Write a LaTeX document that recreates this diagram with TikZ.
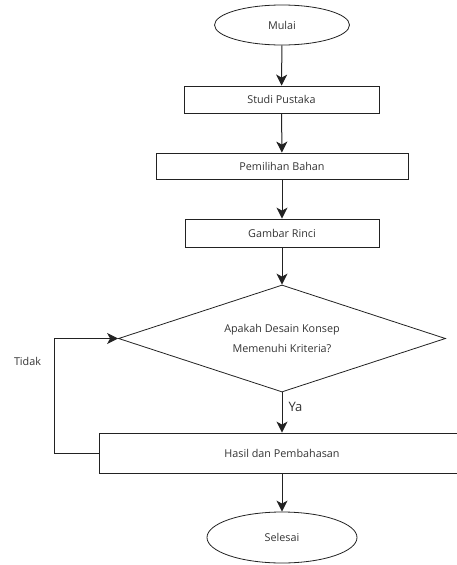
\documentclass[tikz,border=0pt]{standalone}
\usepackage{fontspec}
\setmainfont{Open Sans}
\usetikzlibrary{shapes.geometric,arrows.meta}
\definecolor{txt}{HTML}{333333}
\definecolor{ln}{HTML}{222222}
\begin{document}
\begin{tikzpicture}[x=1pt,y=-1pt,
  every node/.style={font=\fontsize{10.8}{20}\selectfont, text=txt},
  term/.style={draw=ln, line width=0.8pt, ellipse, inner sep=0pt},
  proc/.style={draw=ln, line width=0.8pt, rectangle, inner sep=0pt},
  dec/.style={draw=ln, line width=0.8pt, diamond, aspect=3, inner sep=0pt, align=center},
  arr/.style={draw=ln, line width=1pt, -{Stealth[length=11pt,width=11pt,inset=3pt]}},
  lbl/.style={inner sep=0pt}]
\useasboundingbox (0,0) rectangle (456,565);
\node[term, minimum width=135pt, minimum height=40pt] (mulai) at (282,25) {Mulai};
\node[proc, minimum width=195pt, minimum height=27pt] (studi) at (281.5,99.5) {Studi Pustaka};
\node[proc, minimum width=252pt, minimum height=26pt] (pemilihan) at (282,166) {Pemilihan Bahan};
\node[proc, minimum width=194pt, minimum height=28pt] (gambar) at (282,233) {Gambar Rinci};
\node[dec, minimum width=327pt, minimum height=107pt] (kriteria) at (282,338.5) {Apakah Desain Konsep\\Memenuhi Kriteria?};
\node[proc, minimum width=366pt, minimum height=40pt] (hasil) at (282,453) {Hasil dan Pembahasan};
\node[term, minimum width=150pt, minimum height=51pt] (selesai) at (282,537.5) {Selesai};
\coordinate (loop) at (54,453);
\draw[arr] (mulai) -- (studi);
\draw[arr] (studi) -- (pemilihan);
\draw[arr] (pemilihan) -- (gambar);
\draw[arr] (gambar) -- (kriteria);
\draw[arr] (kriteria) -- (hasil);
\draw[arr] (hasil) -- (selesai);
\draw[arr] (hasil.west) -- (loop) |- (kriteria.west);
\node[lbl] (tidak) at (27.5,361) {Tidak};
\node[lbl, font=\fontsize{13}{14}\selectfont] (ya) at (295.5,407) {Ya};
\end{tikzpicture}
\end{document}
